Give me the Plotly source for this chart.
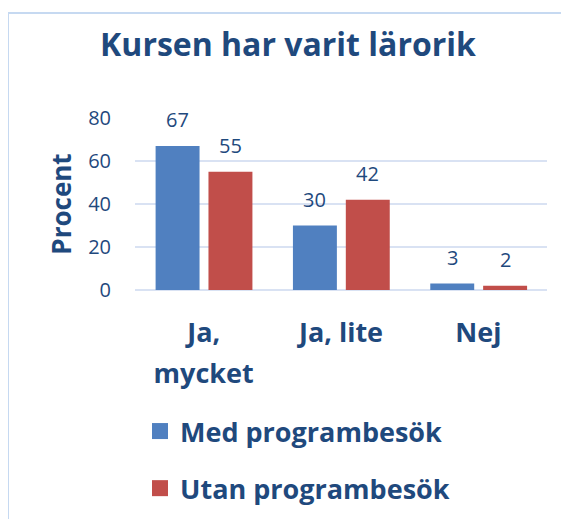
import plotly.graph_objects as go

categories = ["Ja,<br>mycket", "Ja, lite", "Nej"]
series_names = ["Med programbesök", "Utan programbesök"]
med_values = [67, 30, 3]
utan_values = [55, 42, 2]
y_ticks = [0, 20, 40, 60, 80]

# page is offset by the default 8px body margin
OFF = 8
PW, PH = 569, 519
W, H = PW - OFF, PH - OFF
L, R, T, B = 135, 547, 118, 290   # plot area in page pixels
FONT = "Open Sans"
DARK = "#1F497D"
BLUE = "#5080C0"
RED = "#C14E4A"


def px_x(p):
    return (p - L) / (R - L)


def px_y(p):
    return (B - p) / (B - T)


xs = list(range(len(categories)))
fig = go.Figure()
bw = 0.32
offsets = [-0.35, 0.035]
colors = [BLUE, RED]
for name, vals, off, col in zip(series_names, [med_values, utan_values], offsets, colors):
    fig.add_trace(go.Bar(x=xs, y=vals, name=name, width=bw, offset=off,
                         marker=dict(color=col, line=dict(width=0)),
                         showlegend=False, hoverinfo="y"))
    fig.add_trace(go.Scatter(x=[None], y=[None], mode="markers", name=name,
                             legendgroup=name,
                             marker=dict(symbol="square", size=16, color=col)))

annotations = []
for vals, off in zip([med_values, utan_values], offsets):
    for i, v in enumerate(vals):
        annotations.append(dict(x=i + off + bw / 2, y=v, xref="x", yref="y",
                                text=str(v), showarrow=False, yanchor="bottom",
                                yshift=11, font=dict(family=FONT, size=20, color=DARK)))

annotations.append(dict(x=px_x(47), y=px_y(OFF - 3), xref="paper", yref="paper",
                        text="g", showarrow=False, xanchor="left", yanchor="bottom",
                        font=dict(family="Liberation Serif", size=30, color="black")))

span = "<span style='font-size:27px'>"
tick_text = ["<b>" + span + t.replace("<br>", "</span><br>" + span) + "</span></b>"
             for t in categories]

fig.update_layout(
    width=W, height=H,
    margin=dict(l=L - OFF, r=PW - R, t=T - OFF, b=PH - B, autoexpand=False),
    paper_bgcolor="white", plot_bgcolor="white",
    barmode="overlay",
    title=dict(text="<b>Kursen har varit lärorik</b>", xref="container",
               x=(288 - OFF) / W, xanchor="center",
               y=1 - (45 - OFF) / H, yanchor="middle",
               font=dict(family=FONT, size=32, color=DARK)),
    xaxis=dict(range=[-0.5, 2.5], tickvals=xs, ticktext=tick_text,
               showgrid=False, zeroline=False, showline=False, automargin=False,
               ticks="outside", ticklen=14, tickcolor="rgba(0,0,0,0)",
               tickfont=dict(family=FONT, size=31, color=DARK)),
    yaxis=dict(range=[0, 80], tickvals=y_ticks, showgrid=True, gridcolor="#D9E2F3",
               gridwidth=2, zeroline=True, zerolinecolor="#D9E2F3", zerolinewidth=2,
               showline=False, automargin=False,
               ticks="outside", ticklen=19, tickcolor="rgba(0,0,0,0)",
               tickfont=dict(family=FONT, size=20, color=DARK),
               title=dict(text="<b>Procent</b>", standoff=9,
                          font=dict(family=FONT, size=26, color=DARK))),
    legend=dict(x=px_x(140), y=px_y(407), xanchor="left", yanchor="top",
                orientation="v", tracegroupgap=19,
                font=dict(family=FONT, size=27, color=DARK, weight="bold"),
                bgcolor="rgba(0,0,0,0)"),
    annotations=annotations,
    shapes=[dict(type="rect", xref="paper", yref="paper",
                 x0=px_x(8), x1=px_x(590), y0=px_y(13), y1=px_y(540),
                 line=dict(color="#C6D9F1", width=2), fillcolor="rgba(0,0,0,0)",
                 layer="below")],
)

fig.write_html("out.html")
